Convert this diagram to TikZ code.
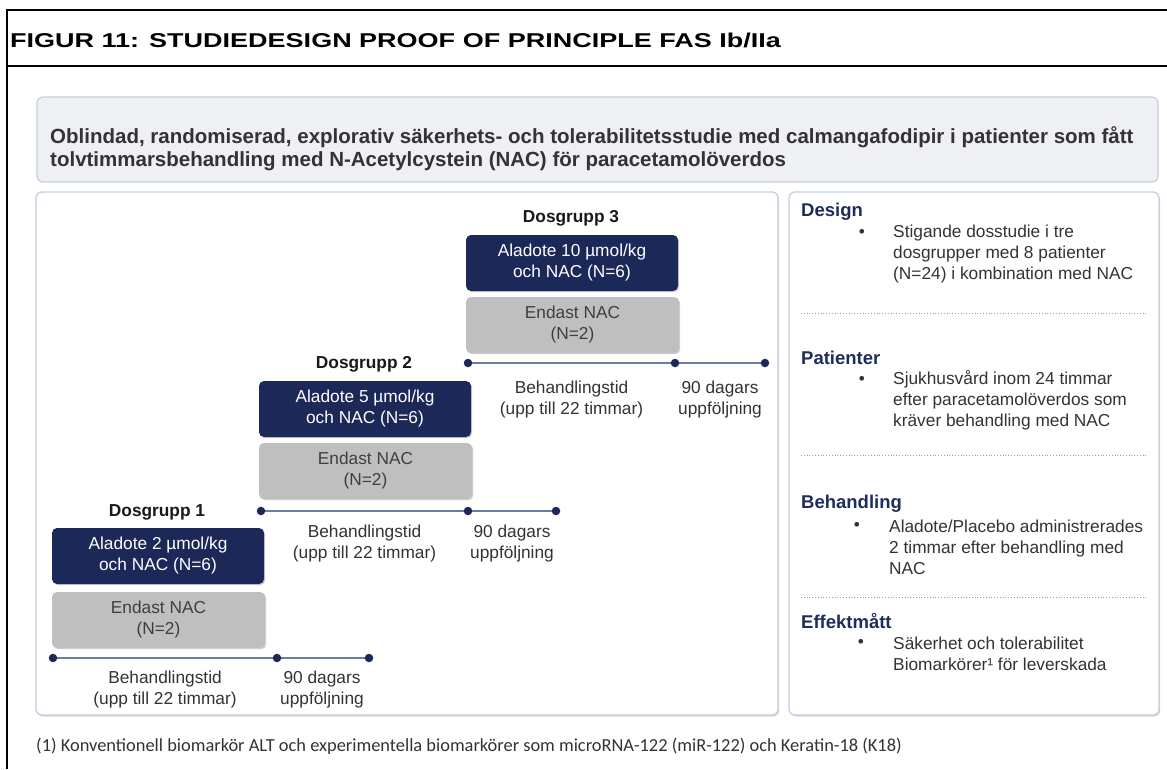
\documentclass[tikz,border=0pt]{standalone}
\usepackage{fontspec}
\setmainfont{Liberation Sans}
\newfontfamily\calfont{Carlito}
\newfontfamily\titlefont[FakeStretch=1.35]{Liberation Sans}
\usetikzlibrary{shadows}
\definecolor{navy}{HTML}{1B2858}
\definecolor{headnavy}{HTML}{1F2D5E}
\definecolor{boxgray}{HTML}{BFBFBF}
\definecolor{boxtext}{HTML}{3F3F3F}
\definecolor{hdrfill}{HTML}{EEF0F3}
\definecolor{panelline}{HTML}{C6CFDF}
\definecolor{tlline}{HTML}{6E7E9E}
\definecolor{dotline}{HTML}{8AA2D2}
\definecolor{txt}{HTML}{333333}
\newcommand{\titlef}{\titlefont\fontsize{20pt}{24pt}\selectfont\bfseries}
\newcommand{\hdrf}{\fontsize{20.5pt}{23.5pt}\selectfont\bfseries}
\newcommand{\regf}{\fontsize{17.3pt}{21pt}\selectfont}
\newcommand{\grpf}{\fontsize{17.3pt}{21pt}\selectfont\bfseries}
\newcommand{\headf}{\fontsize{18.5pt}{22pt}\selectfont\bfseries}
\newcommand{\footf}{\calfont\fontsize{18.4pt}{22pt}\selectfont}
\begin{document}
\begin{tikzpicture}[x=1pt,y=-1pt,
  frame/.style={line width=2pt,black},
  panel/.style={draw=panelline,line width=1.3pt,fill=white,rounded corners=6pt,
    drop shadow={shadow xshift=1.2pt,shadow yshift=-1.5pt,opacity=0.25,fill=black!60},inner sep=0pt},
  hdrbox/.style={draw=panelline,line width=1.2pt,fill=hdrfill,rounded corners=6pt,inner sep=0pt},
  bluebox/.style={fill=navy,rounded corners=5pt,text=white,font=\regf,align=center,
    minimum width=212pt,minimum height=56pt,inner sep=0pt,
    drop shadow={shadow xshift=1.2pt,shadow yshift=-1.2pt,opacity=0.3,fill=black!60}},
  graybox/.style={fill=boxgray,rounded corners=5pt,text=boxtext,font=\regf,align=center,
    minimum width=213pt,minimum height=56pt,inner sep=0pt,
    drop shadow={shadow xshift=1.2pt,shadow yshift=-1.2pt,opacity=0.3,fill=black!60}},
  grplabel/.style={font=\grpf,text=black!90,inner sep=0pt},
  lbl/.style={font=\regf,text=txt,align=center,inner sep=0pt},
  tl/.style={draw=tlline,line width=1.8pt},
  tldot/.style={circle,fill=navy,minimum size=8.5pt,inner sep=0pt},
  head/.style={font=\headf,text=headnavy,anchor=west,inner sep=0pt},
  bul/.style={font=\regf,text=txt,inner sep=0pt},
  btxt/.style={font=\regf,text=txt,anchor=west,align=left,inner sep=0pt},
  sep/.style={draw=dotline,line width=0.8pt,dotted}
]
\useasboundingbox (0,0) rectangle (1167,769);
\fill[white] (0,0) rectangle (1167,769);

% frame
\draw[frame] (1167,10) -- (7,10) -- (7,769);
\draw[frame] (7,65.5) -- (1167,65.5);
\node[anchor=west,font=\titlef,inner sep=0pt] (title) at (10,40) {FIGUR 11: STUDIEDESIGN PROOF OF PRINCIPLE FAS Ib/IIa};

% header box
\node[hdrbox,minimum width=1121pt,minimum height=85pt] (hdr) at (597.5,139.5) {};
\node[anchor=west,font=\hdrf,text=txt,align=left,inner sep=0pt] (hdrtext) at (50,148.5)
  {Oblindad, randomiserad, explorativ säkerhets- och tolerabilitetsstudie med calmangafodipir i patienter som fått\\
   tolvtimmarsbehandling med N-Acetylcystein (NAC) för paracetamolöverdos};

% panels
\node[panel,minimum width=742pt,minimum height=523pt] (lpanel) at (407,453.5) {};
\node[panel,minimum width=370pt,minimum height=523pt] (rpanel) at (974,453.5) {};

% ---- Group 3
\node[grplabel] (g3) at (571,218) {Dosgrupp 3};
\node[bluebox] (b3) at (572,263) {Aladote 10 µmol/kg\\och NAC (N=6)};
\node[graybox] (c3) at (572.5,325) {Endast NAC\\(N=2)};
\coordinate (t3a) at (468,363);
\coordinate (t3b) at (675,363);
\coordinate (t3c) at (765,363);
\draw[tl] (t3a) -- (t3b) -- (t3c);
\node[tldot] (d3a) at (t3a) {};
\node[tldot] (d3b) at (t3b) {};
\node[tldot] (d3c) at (t3c) {};
\node[lbl] (l3a) at (571.5,399.5) {Behandlingstid\\(upp till 22 timmar)};
\node[lbl] (l3b) at (720,399.5) {90 dagars\\uppföljning};

% ---- Group 2
\node[grplabel] (g2) at (364,364) {Dosgrupp 2};
\node[bluebox] (b2) at (365,409) {Aladote 5 µmol/kg\\och NAC (N=6)};
\node[graybox] (c2) at (365.5,471) {Endast NAC\\(N=2)};
\coordinate (t2a) at (261,511);
\coordinate (t2b) at (468,511);
\coordinate (t2c) at (556,511);
\draw[tl] (t2a) -- (t2b) -- (t2c);
\node[tldot] (d2a) at (t2a) {};
\node[tldot] (d2b) at (t2b) {};
\node[tldot] (d2c) at (t2c) {};
\node[lbl] (l2a) at (364.5,544) {Behandlingstid\\(upp till 22 timmar)};
\node[lbl] (l2b) at (512,544) {90 dagars\\uppföljning};

% ---- Group 1
\node[grplabel] (g1) at (157,512) {Dosgrupp 1};
\node[bluebox] (b1) at (158,556) {Aladote 2 µmol/kg\\och NAC (N=6)};
\node[graybox] (c1) at (158.5,620) {Endast NAC\\(N=2)};
\coordinate (t1a) at (53,658);
\coordinate (t1b) at (277,658);
\coordinate (t1c) at (369,658);
\draw[tl] (t1a) -- (t1b) -- (t1c);
\node[tldot] (d1a) at (t1a) {};
\node[tldot] (d1b) at (t1b) {};
\node[tldot] (d1c) at (t1c) {};
\node[lbl] (l1a) at (165,690) {Behandlingstid\\(upp till 22 timmar)};
\node[lbl] (l1b) at (322,690) {90 dagars\\uppföljning};

% ---- Right panel
\node[head] (h1) at (801,212) {Design};
\node[bul] (u1) at (862,233) {•};
\node[btxt] (x1) at (893,254) {Stigande dosstudie i tre\\dosgrupper med 8 patienter\\(N=24) i kombination med NAC};
\coordinate (s1a) at (801,313); \coordinate (s1b) at (1148,313);
\draw[sep] (s1a) -- (s1b);

\node[head] (h2) at (801,358) {Patienter};
\node[bul] (u2) at (862,380) {•};
\node[btxt] (x2) at (893,400.5) {Sjukhusvård inom 24 timmar\\efter paracetamolöverdos som\\kräver behandling med NAC};
\coordinate (s2a) at (801,455); \coordinate (s2b) at (1148,455);
\draw[sep] (s2a) -- (s2b);

\node[head] (h3) at (801,504) {Behandling};
\node[bul] (u3) at (857,526) {•};
\node[btxt] (x3) at (889,547) {Aladote/Placebo administrerades\\2 timmar efter behandling med\\NAC};
\coordinate (s3a) at (801,597); \coordinate (s3b) at (1148,597);
\draw[sep] (s3a) -- (s3b);

\node[head] (h4) at (801,621) {Effektmått};
\node[bul] (u4) at (861,643) {•};
\node[btxt] (x4) at (893,653.5) {Säkerhet och tolerabilitet\\Biomarkörer¹ för leverskada};

% footnote
\node[anchor=west,font=\footf,text=txt,inner sep=0pt] (fn) at (36,746)
  {(1) Konventionell biomarkör ALT och experimentella biomarkörer som microRNA-122 (miR-122) och Keratin-18 (K18)};
\end{tikzpicture}
\end{document}
